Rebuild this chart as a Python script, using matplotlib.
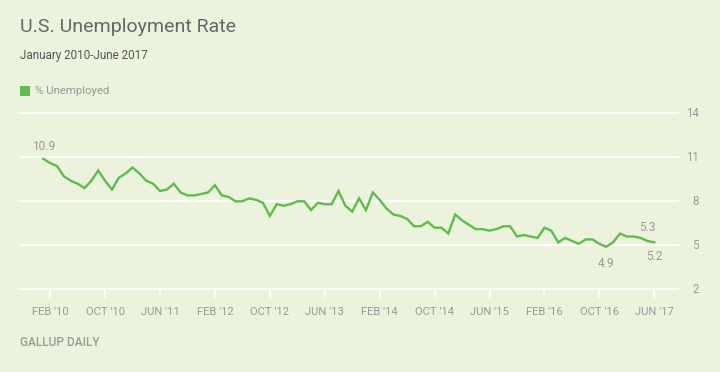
import matplotlib
matplotlib.use("Agg")
import matplotlib.pyplot as plt
import matplotlib.transforms as mtransforms

# Monthly unemployment rate, Jan 2010 - Jun 2017
rate_2010 = [10.9, 10.6, 10.4, 9.7, 9.4, 9.2, 8.9, 9.4, 10.1, 9.4, 8.8, 9.6]
rate_2011 = [9.9, 10.3, 9.9, 9.4, 9.2, 8.7, 8.8, 9.2, 8.6, 8.4, 8.4, 8.5]
rate_2012 = [8.6, 9.1, 8.4, 8.3, 8.0, 8.0, 8.2, 8.1, 7.9, 7.0, 7.8, 7.7]
rate_2013 = [7.8, 8.0, 8.0, 7.4, 7.9, 7.8, 7.8, 8.7, 7.7, 7.3, 8.2, 7.4]
rate_2014 = [8.6, 8.1, 7.5, 7.1, 7.0, 6.8, 6.3, 6.3, 6.6, 6.2, 6.2, 5.8]
rate_2015 = [7.1, 6.7, 6.4, 6.1, 6.1, 6.0, 6.1, 6.3, 6.3, 5.6, 5.7, 5.6]
rate_2016 = [5.5, 6.2, 6.0, 5.2, 5.5, 5.3, 5.1, 5.4, 5.4, 5.1, 4.9, 5.2]
rate_2017 = [5.8, 5.6, 5.6, 5.5, 5.3, 5.2]
rates = rate_2010 + rate_2011 + rate_2012 + rate_2013 + rate_2014 + rate_2015 + rate_2016 + rate_2017

tick_labels = ["FEB '10", "OCT '10", "JUN '11", "FEB '12", "OCT '12", "JUN '13",
               "FEB '14", "OCT '14", "JUN '15", "FEB '16", "OCT '16", "JUN '17"]
tick_months = [1 + 8 * i for i in range(len(tick_labels))]
y_ticks = [2, 5, 8, 11, 14]

# labelled points: (month index, text, dy in px)
labelled = [(0, "10.9", 12), (82, "4.9", -17), (88, "5.3", 13), (89, "5.2", -14)]

BG = "#ecf3dd"
GREEN = "#5cbd4b"
GRAY = "#999999"
FONT = ["Roboto", "DejaVu Sans"]
plt.rcParams["font.family"] = FONT

W, H = 720, 372
fig = plt.figure(figsize=(W / 100, H / 100), dpi=100, facecolor=BG)
ax_left, ax_right = 20, 677.7
ax_top, ax_bottom = 113.3, 289.3
ax = fig.add_axes([ax_left / W, 1 - ax_bottom / H, (ax_right - ax_left) / W, (ax_bottom - ax_top) / H])
ax.set_facecolor(BG)

x0_px, px_per_month = 43.3, 6.865
ax.set_xlim(-(x0_px - ax_left) / px_per_month, (ax_right - x0_px) / px_per_month)
ax.set_ylim(2, 14)

for s in ax.spines.values():
    s.set_visible(False)

for yv in y_ticks:
    ax.axhline(yv, color="white", lw=1.3, zorder=1, clip_on=False)

months = list(range(len(rates)))
ax.plot(months, rates, color=GREEN, lw=1.7, zorder=3, solid_joinstyle="miter")

ax.set_yticks([])
ax.set_xticks(tick_months)
ax.set_xticklabels(tick_labels)
ax.tick_params(axis="x", direction="out", length=6.5, width=1.2, color="white",
               labelcolor=GRAY, labelsize=8.1, pad=6.5)

ytrans = mtransforms.blended_transform_factory(fig.transFigure, ax.transData)
for yv in y_ticks:
    ax.text(699 / W, yv, str(yv), transform=ytrans, ha="right", va="center",
            color=GRAY, fontsize=8.3)

for idx, txt, dy in labelled:
    off = mtransforms.offset_copy(ax.transData, fig=fig, x=0, y=dy * 0.72, units="points")
    ax.text(idx, rates[idx], txt, transform=off, ha="center", va="center",
            color=GRAY, fontsize=8.6)

fig.text(20 / W, 1 - 27.5 / H, "U.S. Unemployment Rate", ha="left", va="center",
         color="#666666", fontsize=14)
fig.text(20.5 / W, 1 - 55 / H, "January 2010-June 2017", ha="left", va="center",
         color="#555555", fontsize=8.4)

leg_ax = fig.add_axes([20 / W, 1 - 95.7 / H, 10 / W, 9.7 / H])
leg_ax.set_axis_off()
leg_ax.add_patch(plt.Rectangle((0, 0), 1, 1, color=GREEN, transform=leg_ax.transAxes))
fig.text(35 / W, 1 - 90.5 / H, "% Unemployed", ha="left", va="center",
         color=GRAY, fontsize=8.2)

fig.text(20 / W, 1 - 342 / H, "GALLUP DAILY", ha="left", va="center",
         color=GRAY, fontsize=8.6, fontweight="medium")

fig.savefig("out.png", dpi=100, facecolor=BG)
